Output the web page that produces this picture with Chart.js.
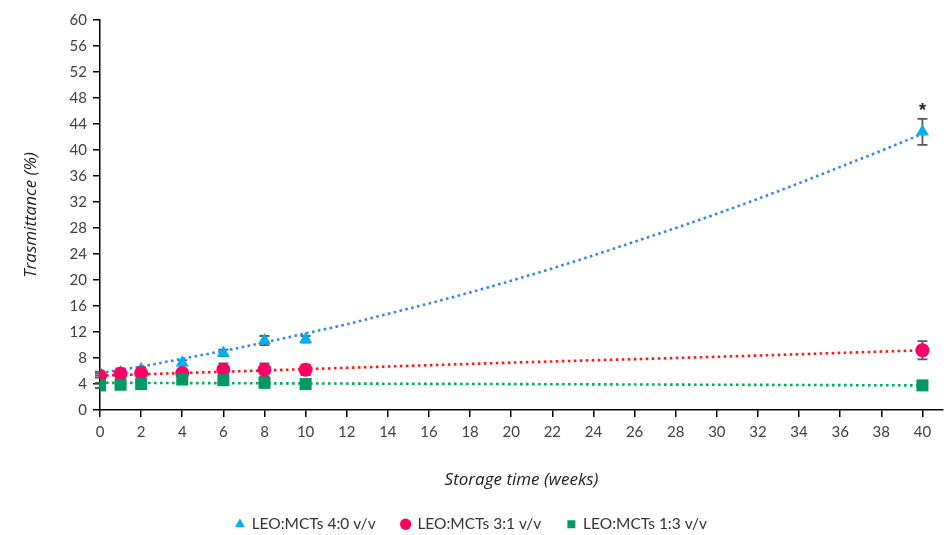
<!DOCTYPE html>
<html>
<head>
<meta charset="utf-8">
<script src="https://cdn.jsdelivr.net/npm/chart.js@4.4.1/dist/chart.umd.min.js"></script>
<style>
  html, body { margin: 0; padding: 0; background: #fff; }
  #wrap { width: 944px; height: 535px; position: relative; }
</style>
</head>
<body>
<div id="wrap"><canvas id="c" width="944" height="535"></canvas></div>
<script>
// ---- data ----
const weeks = [0, 1, 2, 4, 6, 8, 10, 40];
const seriesNames = ['LEO:MCTs 4:0 v/v', 'LEO:MCTs 3:1 v/v', 'LEO:MCTs 1:3 v/v'];
const tr40 = [5.6, 5.8, 6.3, 7.3, 8.8, 10.7, 10.9, 42.8];
const tr40Err = [0.3, 0.3, 0.3, 0.4, 0.5, 0.7, 0.5, 2.0];
const tr31 = [5.3, 5.6, 5.7, 5.7, 6.2, 6.2, 6.2, 9.2];
const tr31Err = [0.3, 0.8, 0.5, 0.4, 1.0, 1.0, 0.8, 1.4];
const tr13 = [3.8, 3.9, 4.0, 4.7, 4.6, 4.2, 4.0, 3.8];
const tr13Err = [0.4, 0.5, 0.3, 0.6, 0.7, 0.7, 0.6, 0.3];
// trend lines (dotted), values read at 2-week steps / selected weeks
const trendWeeks40 = [0, 2, 4, 6, 8, 10, 12, 14, 16, 18, 20, 22, 24, 26, 28, 30, 32, 34, 36, 38, 40];
const trend40 = [5.7, 6.7, 7.9, 9.1, 10.4, 11.8, 13.2, 14.8, 16.4, 18.1, 19.9, 21.8, 23.8, 25.9, 28.0, 30.2, 32.5, 34.9, 37.4, 39.9, 42.5];
const trendWeeks = [0, 10, 20, 30, 40];
const trend31 = [5.3, 6.3, 7.3, 8.2, 9.2];
const trend13 = [4.2, 4.1, 4.0, 3.9, 3.8];
const yTicks = [0, 4, 8, 12, 16, 20, 24, 28, 32, 36, 40, 44, 48, 52, 56, 60];
const xTicks = [0, 2, 4, 6, 8, 10, 12, 14, 16, 18, 20, 22, 24, 26, 28, 30, 32, 34, 36, 38, 40];
const xTitle = 'Storage time (weeks)';
const yTitle = 'Trasmittance (%)';

const pts = (xs, ys) => xs.map((x, i) => ({ x: x, y: ys[i] }));

const errorBars = {
  id: 'errorBars',
  beforeDatasetsDraw(chart) {
    const ctx = chart.ctx;
    const xs = chart.scales.x, ys = chart.scales.y;
    ctx.save();
    ctx.strokeStyle = '#5a5a5a';
    ctx.lineWidth = 1.8;
    chart.data.datasets.forEach(ds => {
      if (!ds.err) return;
      ds.data.forEach((p, i) => {
        const e = ds.err[i];
        const px = xs.getPixelForValue(p.x);
        const top = ys.getPixelForValue(p.y + e);
        const bot = ys.getPixelForValue(p.y - e);
        ctx.beginPath();
        ctx.moveTo(px, top); ctx.lineTo(px, bot);
        ctx.moveTo(px - 5, top); ctx.lineTo(px + 5, top);
        ctx.moveTo(px - 5, bot); ctx.lineTo(px + 5, bot);
        ctx.stroke();
      });
    });
    ctx.restore();
  },
  afterDatasetsDraw(chart) {
    const ctx = chart.ctx;
    const xs = chart.scales.x, ys = chart.scales.y;
    const last = tr40.length - 1;
    const px = xs.getPixelForValue(weeks[last]);
    const py = ys.getPixelForValue(tr40[last] + tr40Err[last]);
    ctx.save();
    ctx.fillStyle = '#222';
    ctx.font = 'bold 18px "Liberation Sans", Arial, sans-serif';
    ctx.textAlign = 'center';
    ctx.textBaseline = 'bottom';
    ctx.fillText('*', px, py + 1);
    ctx.restore();
  }
};

const tickFont = { family: 'Lato, "Open Sans", sans-serif', size: 15 };

new Chart(document.getElementById('c'), {
  type: 'scatter',
  data: {
    datasets: [
      { label: seriesNames[0], data: pts(weeks, tr40), err: tr40Err, pointStyle: 'triangle',
        backgroundColor: '#00b0f0', borderColor: '#00b0f0', pointRadius: 7.5, pointBorderWidth: 0, showLine: false, order: 3 },
      { label: seriesNames[1], data: pts(weeks, tr31), err: tr31Err, pointStyle: 'circle',
        backgroundColor: '#ff0066', borderColor: '#ff0066', pointRadius: 7, pointBorderWidth: 0, showLine: false, order: 2 },
      { label: seriesNames[2], data: pts(weeks, tr13), err: tr13Err, pointStyle: 'rect',
        backgroundColor: '#009966', borderColor: '#009966', pointRadius: 8.5, pointBorderWidth: 0, showLine: false, order: 1 },
      { label: 'trend40', data: pts(trendWeeks40, trend40), showLine: true, pointRadius: 0,
        borderColor: '#3a86e8', borderWidth: 2.6, borderDash: [2.6, 3.4], tension: 0.4, cubicInterpolationMode: 'monotone', order: 4 },
      { label: 'trend31', data: pts(trendWeeks, trend31), showLine: true, pointRadius: 0,
        borderColor: '#ff1a1a', borderWidth: 2.6, borderDash: [2.6, 3.4], tension: 0.4, cubicInterpolationMode: 'monotone', order: 5 },
      { label: 'trend13', data: pts(trendWeeks, trend13), showLine: true, pointRadius: 0,
        borderColor: '#00b060', borderWidth: 2.6, borderDash: [2.6, 3.4], tension: 0.4, cubicInterpolationMode: 'monotone', order: 6 }
    ]
  },
  options: {
    responsive: false,
    animation: false,
    layout: { autoPadding: false, padding: { top: 20, right: 1, left: 0, bottom: -7 } },
    scales: {
      x: {
        type: 'linear', min: 0, max: 41,
        afterBuildTicks: s => { s.ticks = xTicks.map(v => ({ value: v })); },
        afterFit: s => { s.paddingRight = 0; },
        ticks: { color: '#404040', font: tickFont, padding: 6, maxRotation: 0, autoSkip: false },
        grid: { display: true, drawOnChartArea: false, drawTicks: true, tickLength: 7, color: '#000', lineWidth: 1.5 },
        border: { display: true, color: '#000', width: 1.5 },
        title: { display: true, text: xTitle, color: '#222',
          font: { family: '"Open Sans", Lato, sans-serif', size: 17, style: 'italic' }, padding: { top: 23, bottom: 0 } }
      },
      y: {
        type: 'linear', min: 0, max: 60,
        afterBuildTicks: s => { s.ticks = yTicks.map(v => ({ value: v })); },
        afterFit: s => { s.width = 100; },
        ticks: { color: '#404040', font: tickFont, padding: 6 },
        grid: { display: true, drawOnChartArea: false, drawTicks: true, tickLength: 7, color: '#000', lineWidth: 1.5 },
        border: { display: true, color: '#000', width: 1.5 },
        title: { display: true, text: yTitle, color: '#222',
          font: { family: '"Open Sans", Lato, sans-serif', size: 17, style: 'italic' }, padding: { top: 21, bottom: 0 } }
      }
    },
    plugins: {
      legend: {
        position: 'bottom',
        labels: {
          filter: item => item.datasetIndex < 3,
          sort: (a, b) => a.datasetIndex - b.datasetIndex,
          usePointStyle: true,
          boxWidth: 8, boxHeight: 8,
          color: '#333',
          padding: 26,
          font: { family: 'Lato, "Open Sans", sans-serif', size: 15.5 }
        }
      },
      tooltip: { enabled: false }
    }
  },
  plugins: [errorBars]
});
</script>
</body>
</html>
